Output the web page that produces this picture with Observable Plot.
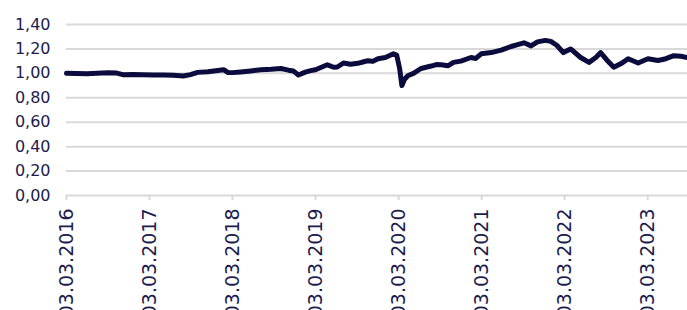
<!DOCTYPE html>
<html>
<head>
<meta charset="utf-8">
<script src="https://cdn.jsdelivr.net/npm/d3@7"></script>
<script src="https://cdn.jsdelivr.net/npm/@observablehq/plot@0.6"></script>
<style>
  html, body { margin: 0; padding: 0; background: #fff; overflow: hidden; }
</style>
</head>
<body>
<div id="chart"></div>
<script>
const dates = [
  "2016-03-03","2016-04-15","2016-06-01","2016-07-15","2016-09-01","2016-10-10","2016-11-10","2016-12-20",
  "2017-02-01","2017-03-20","2017-05-05","2017-06-15","2017-07-30","2017-08-30","2017-10-01","2017-11-15",
  "2017-12-28","2018-01-23","2018-02-10","2018-03-03","2018-04-08","2018-05-22","2018-07-06","2018-08-20",
  "2018-10-02","2018-11-04","2018-11-25","2018-12-18","2019-01-17","2019-02-10","2019-03-03","2019-04-24","2019-05-22",
  "2019-06-07","2019-07-04","2019-08-04","2019-09-05","2019-10-01","2019-10-20","2019-11-10","2019-12-03","2020-01-04","2020-02-09",
  "2020-02-23","2020-03-07","2020-03-17","2020-03-28","2020-04-12","2020-05-07","2020-06-09","2020-07-24",
  "2020-08-15","2020-09-06","2020-10-05","2020-10-30","2020-12-01","2021-01-15","2021-02-05","2021-03-01","2021-04-14","2021-05-28",
  "2021-07-10","2021-08-08","2021-09-05","2021-10-06","2021-11-03","2021-12-08","2022-01-01","2022-01-27",
  "2022-02-25","2022-03-29","2022-05-12","2022-06-18","2022-07-18","2022-08-08","2022-09-04","2022-10-05",
  "2022-11-06","2022-12-07","2023-01-20","2023-03-04","2023-04-17","2023-05-22","2023-06-26","2023-07-27",
  "2023-08-24"
];
const values = [
  1.000,0.998,0.996,1.000,1.004,1.002,0.988,0.990,
  0.988,0.986,0.987,0.984,0.978,0.990,1.008,1.014,
  1.024,1.030,1.008,1.006,1.012,1.020,1.030,1.034,
  1.040,1.026,1.020,0.986,1.010,1.022,1.030,1.070,1.050,
  1.052,1.085,1.074,1.082,1.095,1.104,1.098,1.120,1.130,1.160,
  1.150,1.040,0.900,0.950,0.980,1.000,1.040,1.060,
  1.072,1.070,1.062,1.090,1.100,1.130,1.122,1.160,1.170,1.190,
  1.220,1.235,1.250,1.225,1.258,1.270,1.262,1.230,
  1.170,1.200,1.130,1.090,1.130,1.170,1.110,1.050,
  1.080,1.120,1.085,1.120,1.105,1.120,1.145,1.140,
  1.130
];
const yTicks = [0, 0.2, 0.4, 0.6, 0.8, 1.0, 1.2, 1.4];
const xTickLabels = ["03.03.2016","03.03.2017","03.03.2018","03.03.2019","03.03.2020","03.03.2021","03.03.2022","03.03.2023"];
const xDomain = ["2016-03-03", "2023-08-25"];

const parse = d3.utcParse("%Y-%m-%d");
const parseTick = d3.utcParse("%d.%m.%Y");
const data = dates.map((d, i) => ({date: parse(d), value: values[i]}));
const xTicks = xTickLabels.map(parseTick);
const fmtX = d3.utcFormat("%d.%m.%Y");
const fmtY = d => d.toFixed(2).replace(".", ",");

const textColor = "#1c1c4e";

const chart = Plot.plot({
  width: 687,
  height: 310,
  marginLeft: 66,
  marginRight: 0,
  marginTop: 24,
  marginBottom: 115,
  style: {fontFamily: "DejaVu Sans", background: "#fff", color: textColor},
  x: {type: "utc", domain: xDomain.map(parse)},
  y: {domain: [0, 1.4]},
  marks: [
    Plot.gridY(yTicks, {stroke: "#d9d9d9", strokeOpacity: 1, strokeWidth: 2}),
    Plot.axisY(yTicks, {tickSize: 0, tickPadding: 16, fontSize: 16, fill: textColor, tickFormat: fmtY, label: null}),
    Plot.axisX(xTicks, {tickRotate: -90, tickSize: 5, tickPadding: 8, stroke: "#d9d9d9", strokeWidth: 2, fill: textColor, fontSize: 19, tickFormat: fmtX, label: null}),
    Plot.lineY(data, {x: "date", y: "value", stroke: "#0b0b3d", strokeWidth: 5, strokeLinejoin: "round", strokeLinecap: "round"})
  ]
});
document.getElementById("chart").appendChild(chart);
</script>
</body>
</html>
